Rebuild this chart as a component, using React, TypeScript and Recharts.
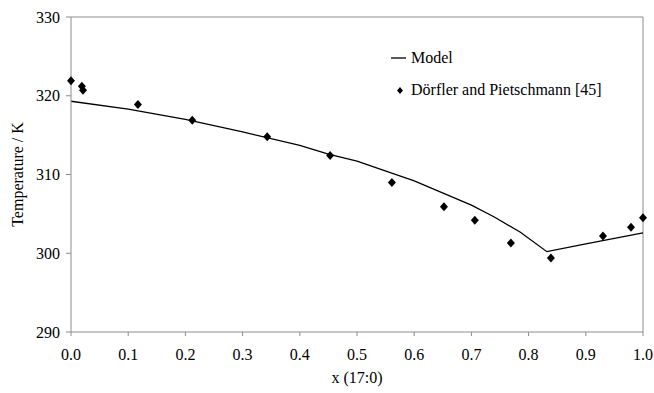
import {
  ComposedChart,
  Line,
  Scatter,
  XAxis,
  YAxis,
  ReferenceLine,
} from "recharts";

// model curve (liquidus), x = mole fraction of 17:0
const modelX = [0, 0.1, 0.2, 0.3, 0.4, 0.45, 0.5, 0.6, 0.7, 0.74, 0.785, 0.832, 0.9, 1.0];
const modelT = [319.3, 318.3, 317.0, 315.4, 313.7, 312.6, 311.7, 309.2, 306.1, 304.6, 302.7, 300.2, 301.2, 302.6];

// experimental points, Dörfler and Pietschmann [45]
const expX = [0, 0.019, 0.021, 0.117, 0.212, 0.343, 0.453, 0.561, 0.652, 0.706, 0.769, 0.839, 0.93, 0.979, 1.0];
const expT = [321.9, 321.2, 320.7, 318.9, 316.9, 314.8, 312.4, 309.0, 305.9, 304.2, 301.3, 299.4, 302.2, 303.3, 304.5];

const xTicks = [0, 0.1, 0.2, 0.3, 0.4, 0.5, 0.6, 0.7, 0.8, 0.9, 1.0];
const yTicks = [290, 300, 310, 320, 330];

const modelData = modelX.map((x, i) => ({ x, T: modelT[i] }));
const expData = expX.map((x, i) => ({ x, T: expT[i] }));

const FONT = '"Liberation Serif", "Times New Roman", serif';
const AXIS = "#8c8c8c";

function YLabel({ viewBox }: any) {
  const cy = viewBox.y + viewBox.height / 2;
  return (
    <text
      x={23}
      y={cy}
      transform={`rotate(-90, 23, ${cy})`}
      textAnchor="middle"
      fontSize={16}
      fill="#000"
    >
      Temperature / K
    </text>
  );
}

function Diamond({ cx, cy }: any) {
  return (
    <polygon
      points={`${cx},${cy - 4.5} ${cx + 4},${cy} ${cx},${cy + 4.5} ${cx - 4},${cy}`}
      fill="#000"
    />
  );
}

function LegendBox() {
  return (
    <div
      style={{
        position: "absolute",
        left: 388,
        top: 48,
        fontSize: 16,
        color: "#000",
        lineHeight: "20px",
      }}
    >
      <div style={{ display: "flex", alignItems: "center" }}>
        <svg width={23} height={20}>
          <line x1={3} y1={10} x2={18} y2={10} stroke="#000" strokeWidth={1.3} />
        </svg>
        <span>Model</span>
      </div>
      <div style={{ display: "flex", alignItems: "center", marginTop: 12 }}>
        <svg width={23} height={20}>
          <polygon points="12,7 15,10.5 12,14 9,10.5" fill="#000" />
        </svg>
        <span>Dörfler and Pietschmann [45]</span>
      </div>
    </div>
  );
}

export default function App() {
  return (
    <div
      style={{
        position: "absolute",
        left: 0,
        top: 0,
        width: 654,
        height: 393,
        background: "#fff",
        fontFamily: FONT,
      }}
    >
      <ComposedChart
        width={654}
        height={393}
        margin={{ top: 17, right: 11, left: 0, bottom: 0 }}
        style={{ fontFamily: FONT }}
      >
        <XAxis
          dataKey="x"
          type="number"
          domain={[0, 1]}
          ticks={xTicks}
          tickFormatter={(v) => v.toFixed(1)}
          allowDuplicatedCategory={false}
          height={61}
          stroke={AXIS}
          tickSize={4}
          tickMargin={13}
          tick={{ fill: "#000", fontSize: 16 }}
          label={{
            value: "x (17:0)",
            position: "insideBottom",
            offset: 10,
            fill: "#000",
            fontSize: 16,
          }}
        />
        <YAxis
          dataKey="T"
          type="number"
          domain={[290, 330]}
          ticks={yTicks}
          width={71}
          stroke={AXIS}
          tickSize={5}
          tickMargin={6}
          tick={{ fill: "#000", fontSize: 16 }}
          label={{ content: YLabel }}
        />
        <ReferenceLine y={330} stroke={AXIS} />
        <ReferenceLine x={1} stroke={AXIS} />
        <Line
          data={modelData}
          dataKey="T"
          type="linear"
          stroke="#000"
          strokeWidth={1.3}
          dot={false}
          isAnimationActive={false}
          name="Model"
        />
        <Scatter
          data={expData}
          dataKey="T"
          fill="#000"
          shape={<Diamond />}
          isAnimationActive={false}
          name="Dörfler and Pietschmann [45]"
        />
      </ComposedChart>
      <LegendBox />
    </div>
  );
}
